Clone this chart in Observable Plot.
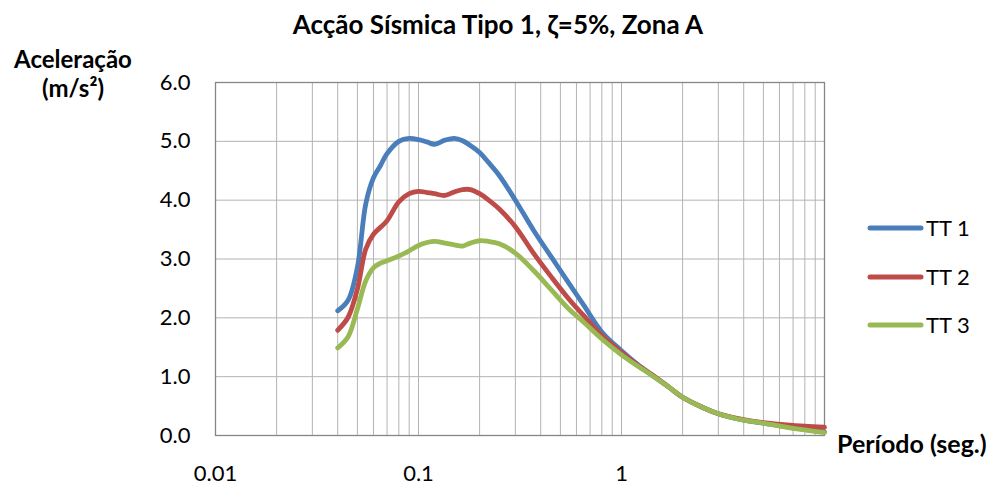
<!DOCTYPE html>
<html><head><meta charset="utf-8">
<script src="https://cdn.jsdelivr.net/npm/d3@7"></script>
<script src="https://cdn.jsdelivr.net/npm/@observablehq/plot@0.6"></script>
<style>body{margin:0;background:#fff}</style>
</head><body><div id="chart"></div>
<script>
const periods = [0.04,0.045,0.05,0.055,0.06,0.065,0.07,0.08,0.09,0.1,0.11,0.12,0.135,0.15,0.165,0.18,0.2,0.22,0.25,0.3,0.37,0.45,0.55,0.65,0.8,1.0,1.2,1.4,1.7,2.0,2.5,3.0,4.0,5.0,7.0,10.0];
const tt1 = [2.12,2.30,2.86,3.94,4.38,4.59,4.79,5.00,5.05,5.03,4.99,4.95,5.02,5.05,5.01,4.93,4.81,4.65,4.42,4.00,3.48,3.04,2.59,2.22,1.76,1.44,1.21,1.04,0.83,0.65,0.48,0.37,0.26,0.21,0.13,0.06];
const tt2 = [1.79,2.01,2.49,3.17,3.42,3.54,3.65,3.97,4.11,4.15,4.13,4.11,4.08,4.14,4.18,4.18,4.11,4.01,3.85,3.55,3.09,2.70,2.32,2.04,1.70,1.41,1.20,1.04,0.83,0.65,0.48,0.37,0.27,0.22,0.17,0.14];
const tt3 = [1.49,1.68,2.15,2.63,2.85,2.93,2.97,3.05,3.14,3.23,3.28,3.30,3.27,3.24,3.22,3.27,3.31,3.30,3.26,3.10,2.80,2.48,2.15,1.93,1.64,1.37,1.18,1.03,0.83,0.65,0.48,0.37,0.26,0.21,0.12,0.05];
const seriesNames = ["TT 1","TT 2","TT 3"];
const seriesColors = ["#4a7ebb","#be4b48","#98b954"];
const xTickValues = [0.01,0.1,1];
const xTickLabels = ["0.01","0.1","1"];
const yTickValues = [0,1,2,3,4,5,6];
const titleText = "Acção Sísmica Tipo 1, ζ=5%, Zona A";
const yLabelLines = ["Aceleração","(m/s²)"];
const xLabelText = "Período (seg.)";

const rows = [];
[tt1,tt2,tt3].forEach((vals,i)=>periods.forEach((p,j)=>rows.push({series:seriesNames[i], period:p, acc:vals[j]})));
const gridX = d3.scaleLog().domain([0.01,10]).ticks();
const FONT = "Lato, sans-serif";

const plot = Plot.plot({
  width: 993, height: 490,
  marginLeft: 215, marginRight: 169, marginTop: 82, marginBottom: 55,
  style: {fontFamily: FONT, fontSize: "22px", color: "#000", background: "#fff", overflow: "visible"},
  x: {type: "log", domain: [0.01, 10]},
  y: {domain: [0, 6]},
  color: {domain: seriesNames, range: seriesColors},
  marks: [
    Plot.ruleX(gridX, {stroke: "#b3b3b3", strokeWidth: 1, strokeOpacity: 1}),
    Plot.ruleY(yTickValues, {stroke: "#b3b3b3", strokeWidth: 1}),
    Plot.frame({stroke: "#868686", strokeWidth: 1.3}),
    Plot.axisX(xTickValues, {tickSize: 0, tickPadding: 30, tickFormat: d => xTickLabels[xTickValues.indexOf(d)], label: null, fill: "#000"}),
    Plot.axisY(yTickValues, {tickSize: 0, tickPadding: 25, tickFormat: d3.format(".1f"), label: null, fill: "#000"}),
    Plot.line(rows, {x: "period", y: "acc", stroke: "series", strokeWidth: 4.8, curve: "catmull-rom", strokeLinecap: "round", strokeLinejoin: "round"})
  ]
});
document.getElementById("chart").appendChild(plot);

const svg = d3.select(plot);
const g = svg.append("g").attr("font-family", FONT).attr("fill", "#000");
g.append("text").attr("x", 498).attr("y", 34).attr("text-anchor", "middle").attr("font-weight", "bold").attr("font-size", 26).text(titleText);
g.append("text").attr("x", 73).attr("y", 68).attr("text-anchor", "middle").attr("font-weight", "bold").attr("font-size", 24).text(yLabelLines[0]);
g.append("text").attr("x", 73).attr("y", 97).attr("text-anchor", "middle").attr("font-weight", "bold").attr("font-size", 24).text(yLabelLines[1]);
g.append("text").attr("x", 837).attr("y", 453).attr("text-anchor", "start").attr("font-weight", "bold").attr("font-size", 25).text(xLabelText);
const legendY = [228, 277, 325];
seriesNames.forEach((name, i) => {
  g.append("line").attr("x1", 870).attr("x2", 921).attr("y1", legendY[i]).attr("y2", legendY[i])
    .attr("stroke", seriesColors[i]).attr("stroke-width", 5).attr("stroke-linecap", "round");
  g.append("text").attr("x", 926).attr("y", legendY[i]).attr("dy", "0.36em").attr("text-anchor", "start").attr("font-size", 22).text(name);
});
</script>
</body></html>
